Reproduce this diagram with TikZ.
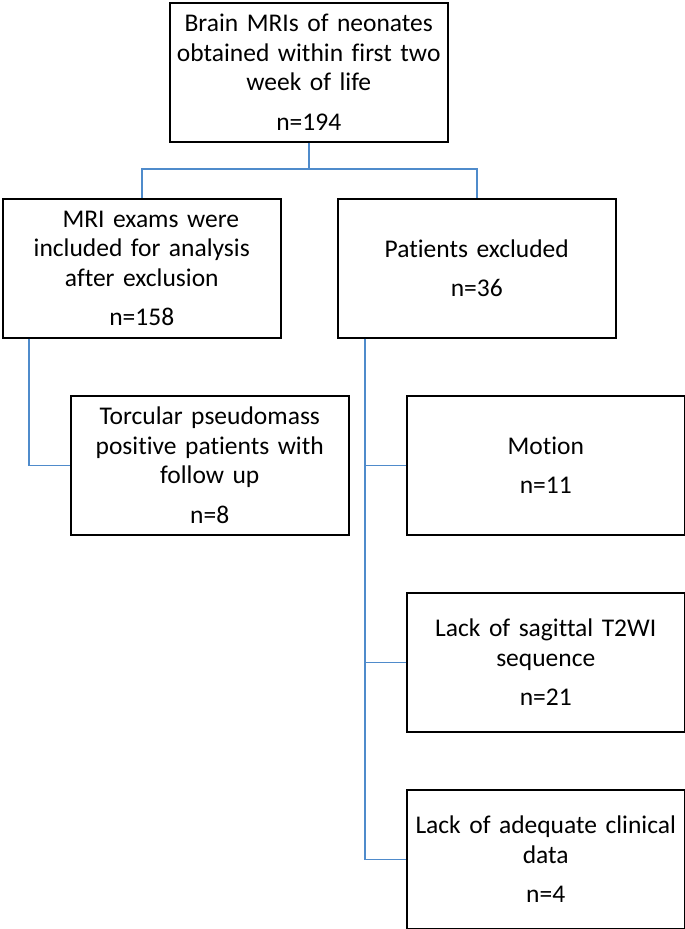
\documentclass[tikz,border=0pt]{standalone}
\usepackage{fontspec}
\setmainfont[Ligatures={NoCommon}]{Carlito}
\definecolor{linkblue}{HTML}{4F8BCB}
\begin{document}
\begin{tikzpicture}[x=1bp,y=-1bp,
  box/.style={draw=black,line width=1.5bp,minimum width=278bp,minimum height=139bp,
    inner sep=0pt,align=center,font=\fontsize{25.5bp}{29.5bp}\selectfont,anchor=north west,text width=276bp},
  link/.style={draw=linkblue,line width=1.5bp}]
\useasboundingbox (0,0) rectangle (685,929);
\node[box] (top) at (169,2) {Brain MRIs of neonates\\obtained within first two\\week of life\\[10bp]n=194};
\node[box] (inc) at (2,198) {\hspace*{18bp}MRI exams were\\included for analysis\\after exclusion\\[10bp]n=158};
\node[box] (exc) at (337,198) {Patients excluded\\[10bp]n=36};
\node[box] (tor) at (70,395) {Torcular pseudomass\\positive patients with\\follow up\\[10bp]n=8};
\node[box] (mot) at (406,395) {Motion\\[10bp]n=11};
\node[box] (sag) at (406,592) {Lack of sagittal T2WI\\sequence\\[10bp]n=21};
\node[box] (ade) at (406,789) {Lack of adequate clinical\\data\\[10bp]n=4};
\coordinate (jy) at (0,169);
\coordinate (j) at (top.south |- jy);
\draw[link] (top.south) -- (j);
\draw[link] (j) -| (inc.north);
\draw[link] (j) -| (exc.north);
\coordinate (lv) at (29,0);
\coordinate (rv) at (365,0);
\draw[link] (inc.south -| lv) |- (tor.west);
\draw[link] (exc.south -| rv) |- (ade.west);
\draw[link] (mot.west) -- (mot.west -| rv);
\draw[link] (sag.west) -- (sag.west -| rv);
\end{tikzpicture}
\end{document}
